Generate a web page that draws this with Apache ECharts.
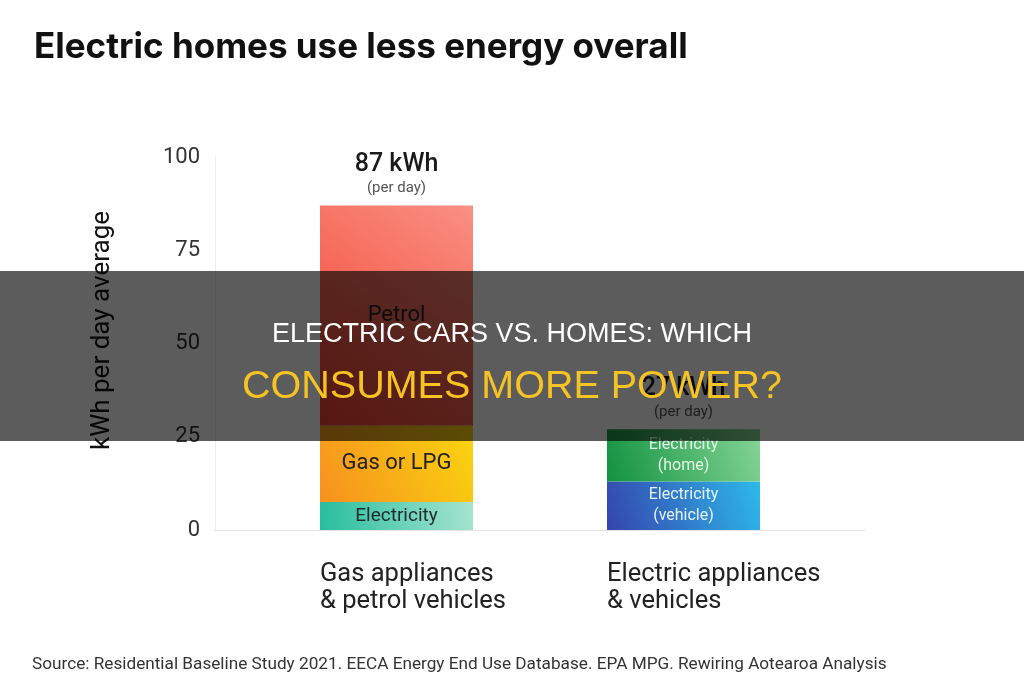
<!DOCTYPE html>
<html>
<head>
<meta charset="utf-8">
<script src="https://cdn.jsdelivr.net/npm/echarts@6/dist/echarts.min.js"></script>
<style>
  html, body { margin: 0; padding: 0; background: #fff; }
  #main { width: 1024px; height: 680px; }
</style>
</head>
<body>
<div id="main"></div>
<script>
// categories on the x axis
const categories = ['Gas appliances\n& petrol vehicles', 'Electric appliances\n& vehicles'];
// kWh per day, stacked bottom to top
const electricityGas = [7.5, '-'];
const gasLpg = [20.5, '-'];
const petrol = [59, '-'];
const electricityVehicle = ['-', 13];
const electricityHome = ['-', 14];
const totals = [87, 27];
const yTicks = [0, 25, 50, 75, 100];

const G = echarts.graphic.LinearGradient;
const FONT = 'Roboto, "Noto Sans", sans-serif';

function seg(name, data, colors, label) {
    return {
        name: name,
        type: 'bar',
        stack: 'total',
        xAxisIndex: 1,
        yAxisIndex: 1,
        barWidth: 153,
        data: data,
        itemStyle: { color: new G(0, 1, 1, 0, [{ offset: 0, color: colors[0] }, { offset: 1, color: colors[1] }]) },
        label: Object.assign({ show: true, position: 'inside', fontFamily: FONT }, label),
        emphasis: { disabled: true }
    };
}

const chart = echarts.init(document.getElementById('main'));
chart.setOption({
    animation: false,
    textStyle: { fontFamily: FONT },
    title: {
        text: 'Electric homes use less energy overall',
        left: 29, top: 25,
        textStyle: { fontFamily: 'Inter, Roboto, sans-serif', fontSize: 35, fontWeight: 700, color: '#111' }
    },
    grid: [
        { left: 215, right: 159, top: 157, bottom: 150 },
        { left: 253, right: 197, top: 157, bottom: 150 }
    ],
    xAxis: [
        {
            type: 'category', gridIndex: 0, data: [''],
            axisLine: { lineStyle: { color: '#e4e4e4', width: 1 } },
            axisTick: { show: false }, axisLabel: { show: false }
        },
        {
            type: 'category', gridIndex: 1, data: categories,
            axisLine: { show: false }, axisTick: { show: false },
            axisLabel: {
                margin: 31,
                formatter: function (v) {
                    return v.split('\n').map(function (s) { return '{a|' + s + '}'; }).join('\n');
                },
                rich: { a: { width: 153, align: 'left', fontSize: 25.5, lineHeight: 27, color: '#222', fontFamily: FONT } }
            }
        }
    ],
    yAxis: [
        {
            type: 'value', gridIndex: 0, min: yTicks[0], max: yTicks[yTicks.length - 1], interval: 25,
            name: 'kWh per day average', nameLocation: 'middle', nameGap: 100, nameRotate: 90,
            nameTextStyle: { fontSize: 26, fontWeight: 'normal', color: '#111', padding: [0, 0, 0, 26] },
            axisLine: { show: true, lineStyle: { color: '#ececec' } },
            axisTick: { show: false },
            splitLine: { show: false },
            axisLabel: { fontSize: 22, color: '#333', margin: 15 }
        },
        {
            type: 'value', gridIndex: 1, min: 0, max: 100, show: false
        }
    ],
    series: [
        seg('Electricity', electricityGas, ['#27bd9e', '#a7e4cf'], { formatter: 'Electricity', fontSize: 19, color: '#1e2b2a' }),
        seg('Gas or LPG', gasLpg, ['#f7901f', '#fad50f'], { formatter: 'Gas or LPG', fontSize: 22, color: '#222' }),
        seg('Petrol', petrol, ['#f2402d', '#f99083'], { formatter: 'Petrol', fontSize: 22, color: '#222' }),
        seg('Electricity (vehicle)', electricityVehicle, ['#3544ad', '#2db9ea'], { formatter: 'Electricity\n(vehicle)', fontSize: 16, lineHeight: 21, color: '#e4f3fb' }),
        seg('Electricity (home)', electricityHome, ['#11923f', '#86d596'], { formatter: 'Electricity\n(home)', fontSize: 16, lineHeight: 21, color: '#e4f6e6' }),
        {
            name: 'Total', type: 'bar', stack: 'total', xAxisIndex: 1, yAxisIndex: 1,
            barWidth: 153, data: [0, 0], silent: true,
            label: {
                show: true, position: 'top', distance: 8,
                formatter: function (p) { return '{t|' + totals[p.dataIndex] + ' kWh}\n{p|(per day)}'; },
                rich: {
                    t: { fontSize: 25, fontWeight: 500, color: '#1a1a1a', lineHeight: 30, align: 'center', fontFamily: FONT },
                    p: { fontSize: 15, color: '#555', lineHeight: 18, align: 'center', fontFamily: FONT }
                }
            }
        }
    ],
    graphic: [
        {
            type: 'text', left: 32, top: 656, z: 10,
            style: { text: 'Source: Residential Baseline Study 2021. EECA Energy End Use Database. EPA MPG. Rewiring Aotearoa Analysis', fontSize: 17.2, fill: '#333', fontFamily: FONT }
        },
        {
            type: 'rect', left: 0, top: 271, z: 100,
            shape: { width: 1024, height: 170 },
            style: { fill: 'rgba(0,0,0,0.64)' }
        },
        {
            type: 'text', left: 'center', top: 321, z: 101,
            style: { text: 'ELECTRIC CARS VS. HOMES: WHICH', fontSize: 27, fill: '#ffffff', fontFamily: '"Liberation Sans", Arial, sans-serif' }
        },
        {
            type: 'text', left: 'center', top: 367, z: 101,
            style: { text: 'CONSUMES MORE POWER?', fontSize: 39.5, fill: '#f6c324', fontFamily: '"Liberation Sans", Arial, sans-serif' }
        }
    ]
});
</script>
</body>
</html>
